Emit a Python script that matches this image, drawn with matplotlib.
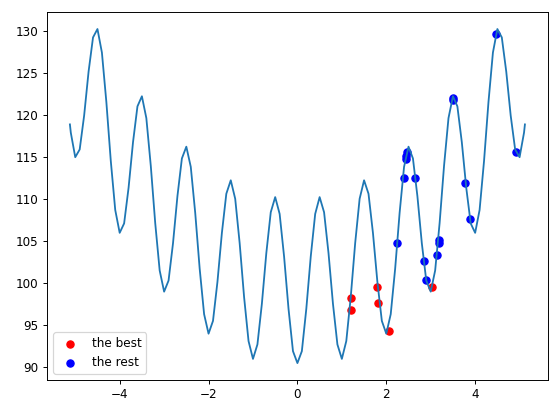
import numpy as np
import matplotlib.pyplot as plt

# curve sampled every 0.1 (right half, mirrored for the left half)
x_half = [0.0, 0.1, 0.2, 0.3, 0.4, 0.5, 0.6, 0.7, 0.8, 0.9,
          1.0, 1.1, 1.2, 1.3, 1.4, 1.5, 1.6, 1.7, 1.8, 1.9,
          2.0, 2.1, 2.2, 2.3, 2.4, 2.5, 2.6, 2.7, 2.8, 2.9,
          3.0, 3.1, 3.2, 3.3, 3.4, 3.5, 3.6, 3.7, 3.8, 3.9,
          4.0, 4.1, 4.2, 4.3, 4.4, 4.5, 4.6, 4.7, 4.8, 4.9,
          5.0, 5.1, 5.12]
y_half = [90.5, 91.92, 96.95, 103.18, 108.25, 110.25, 108.45, 103.58, 97.55, 92.72,
          91.0, 93.12, 98.35, 104.78, 110.05, 112.25, 110.65, 105.98, 100.15, 95.52,
          94.0, 96.32, 101.75, 108.38, 113.85, 116.25, 114.85, 110.38, 104.75, 100.32,
          99.0, 101.52, 107.15, 113.98, 119.65, 122.25, 121.05, 116.78, 111.35, 107.12,
          106.0, 108.72, 114.55, 121.58, 127.45, 130.25, 129.25, 125.18, 119.95, 115.92,
          115.0, 117.92, 118.9]

x_curve = [-v for v in x_half[:0:-1]] + x_half
y_curve = y_half[:0:-1] + y_half

best_x = [1.2, 1.2, 1.8, 1.82, 2.05, 3.02]
best_y = [96.8, 98.3, 99.5, 97.6, 94.3, 99.5]

rest_x = [2.25, 2.4, 2.45, 2.45, 2.47, 2.65, 2.85, 2.9, 3.15, 3.18, 3.18,
          3.5, 3.5, 3.78, 3.88, 4.48, 4.92]
rest_y = [104.8, 112.5, 114.8, 115.2, 115.6, 112.5, 102.7, 100.4, 103.4, 104.8, 105.1,
          121.8, 122.1, 111.9, 107.6, 129.6, 115.6]

fig, ax = plt.subplots(figsize=(6.4, 4.8), dpi=86.7)
fig.subplots_adjust(left=0.085, right=0.987, top=0.97, bottom=0.087)
ax.plot(x_curve, y_curve)
ax.scatter(best_x, best_y, color='red', label='the best')
ax.scatter(rest_x, rest_y, color='blue', label='the rest')
ax.legend(loc='lower left')
fig.savefig("out.png")
